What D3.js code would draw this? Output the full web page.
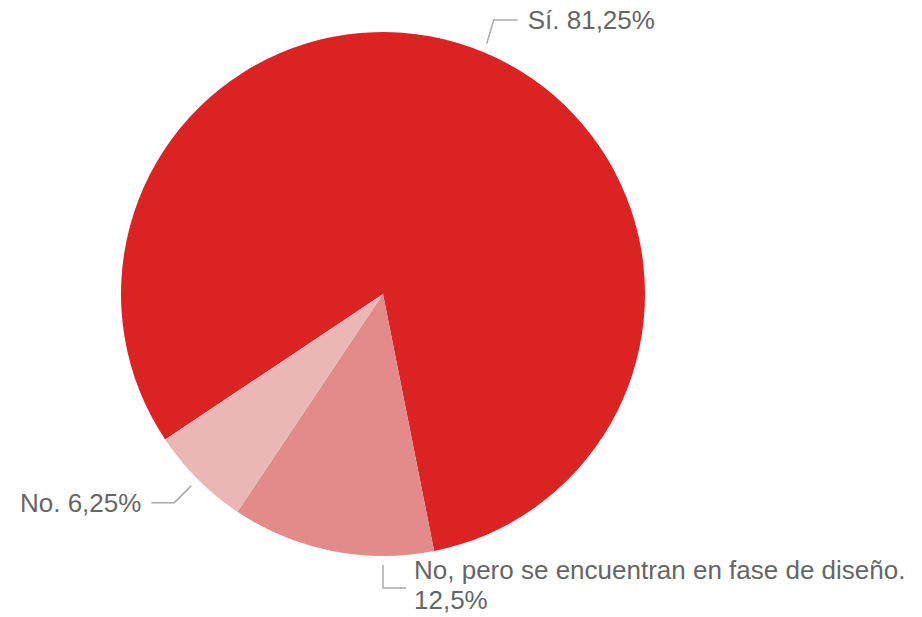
<!DOCTYPE html>
<html>
<head>
<meta charset="utf-8">
<script src="https://cdn.jsdelivr.net/npm/d3@7"></script>
<style>
  body { margin: 0; background: #fff; }
  svg text { font-family: "Liberation Sans", Arial, sans-serif; }
</style>
</head>
<body>
<svg id="chart" width="922" height="617"></svg>
<script>
// data
var labels = ["Sí", "No, pero se encuentran en fase de diseño", "No"];
var percents = [81.25, 12.5, 6.25];
var colors = ["#db2323", "#e38b8b", "#eab6b6"];
var valueText = ["81,25%", "12,5%", "6,25%"];

var cx = 383, cy = 294, radius = 262;
var svg = d3.select("#chart");
var g = svg.append("g").attr("transform", "translate(" + cx + "," + cy + ")");

var rad = function(deg) { return deg * Math.PI / 180; };
var pie = d3.pie().sort(null).value(function(d) { return d; })
    .startAngle(rad(236.25)).endAngle(rad(236.25 + 360));
var arcs = pie(percents);
var arc = d3.arc().innerRadius(0).outerRadius(radius);

g.selectAll("path.slice")
  .data(arcs)
  .enter().append("path")
  .attr("class", "slice")
  .attr("d", arc)
  .attr("fill", function(d, i) { return colors[i]; });

// leader lines + labels
function pt(angle, r) {
  return [r * Math.sin(angle), -r * Math.cos(angle)];
}
var lineColor = "#aaaaaa", textColor = "#666666", fs = 26;

arcs.forEach(function(d, i) {
  var mid = (d.startAngle + d.endAngle) / 2;
  var pts, tx, ty, anchor, lines;
  if (i === 0) {
    var p0 = pt(mid, radius + 9);
    var p1 = [p0[0] + 7, -274];
    pts = [p0, p1, [p1[0] + 24, p1[1]]];
    tx = p1[0] + 34; ty = p1[1] + 9; anchor = "start";
    lines = [labels[i] + ". " + valueText[i]];
  } else if (i === 2) {
    var q0 = pt(mid, radius + 9);
    var q1 = [q0[0] - 17, q0[1] + 17];
    pts = [q0, q1, [q1[0] - 23, q1[1]]];
    tx = q1[0] - 33; ty = q1[1] + 9; anchor = "end";
    lines = [labels[i] + ". " + valueText[i]];
  } else {
    var r0 = pt(Math.PI, radius + 9);
    var r1 = [r0[0], r0[1] + 23];
    pts = [r0, r1, [r1[0] + 23, r1[1]]];
    tx = r1[0] + 31; ty = r1[1] - 9; anchor = "start";
    lines = [labels[i] + ".", valueText[i]];
  }
  g.append("polyline")
    .attr("points", pts.map(function(p) { return p.join(","); }).join(" "))
    .attr("fill", "none")
    .attr("stroke", lineColor)
    .attr("stroke-width", 1.5);
  var t = g.append("text")
    .attr("x", tx).attr("y", ty)
    .attr("text-anchor", anchor)
    .attr("fill", textColor)
    .style("font-size", fs + "px");
  lines.forEach(function(l, k) {
    t.append("tspan").attr("x", tx).attr("dy", k === 0 ? 0 : 30).text(l);
  });
});
</script>
</body>
</html>
